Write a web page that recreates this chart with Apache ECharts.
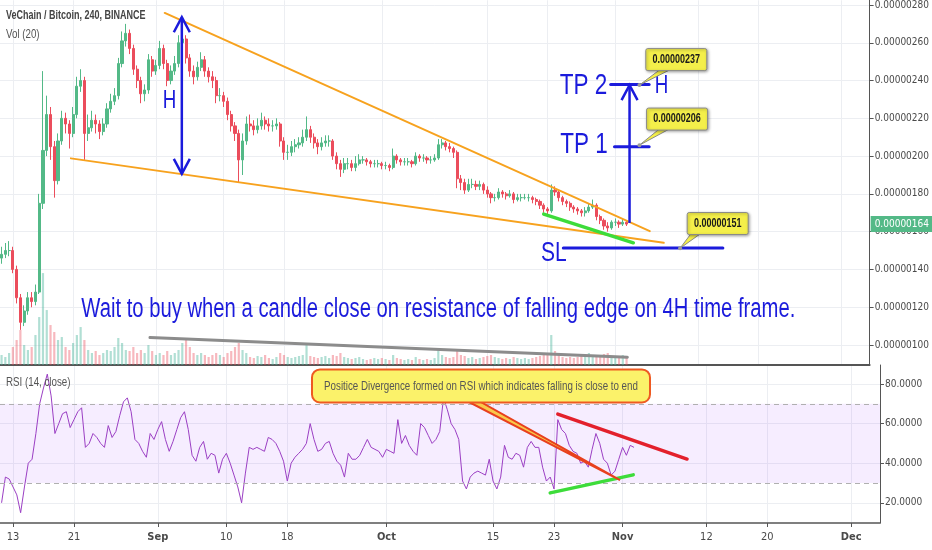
<!DOCTYPE html>
<html><head><meta charset="utf-8">
<script src="https://cdn.jsdelivr.net/npm/echarts@6/dist/echarts.min.js"></script>
<style>html,body{margin:0;padding:0;background:#fff}#c{width:932px;height:550px}</style>
</head><body><div id="c"></div>
<script>
// ---------------- DATA (prices in satoshi, i.e. x 1e-8 BTC) ----------------
const candleStart = '2018-08-11 12:00';
const candleStepHours = 12;
const firstOpen = 146;
const closes = [
148,150,150,140,125,112,118,125,123,128,
175,203,222,205,187,208,220,217,212,222,
237,240,212,215,219,217,213,217,225,229,
232,249,261,265,257,246,240,233,235,251,
245,248,257,249,240,245,249,260,262,252,
245,242,247,251,245,242,240,232,232,229,
222,216,212,198,208,217,216,214,216,219,
217,216,216,217,208,202,202,205,206,207,
210,214,210,207,205,207,208,208,200,196,
193,196,196,194,196,198,198,197,196,196,
196,195,195,194,200,198,197,197,197,196,
200,199,199,198,198,199,206,207,205,204,
202,188,186,182,185,185,184,185,182,180,
178,178,181,180,179,180,177,178,178,178,
178,177,176,174,172,171,182,181,178,176,
175,173,172,171,170,171,173,174,168,166,
163,162,165,165,164,165,164];
const highs = [
152,154,155,152,142,127,121,128,128,132,
180,245,232,226,208,212,224,223,219,226,
242,246,242,222,224,222,219,220,228,233,
236,252,266,270,267,259,248,242,238,254,
253,251,261,259,251,248,253,264,270,264,
254,248,250,255,253,247,245,242,236,234,
231,224,218,214,212,221,222,219,220,223,
221,220,219,220,218,210,206,208,209,210,
214,221,216,212,209,210,211,211,209,202,
198,199,199,198,200,201,200,199,198,198,
198,197,197,196,204,201,199,199,199,198,
202,201,201,200,200,201,209,209,208,207,
205,203,190,188,188,188,187,187,186,184,
181,180,183,182,181,182,181,180,180,180,
180,179,178,177,175,173,185,184,182,179,
177,176,174,173,172,173,175,177,175,169,
167,165,166,167,166,167,166];
const lows = [
143,146,147,138,122,108,110,116,120,121,
127,172,200,198,178,185,206,212,204,210,
220,234,198,208,213,212,209,211,215,223,
227,230,247,258,254,243,236,228,229,233,
242,243,246,246,237,238,243,247,257,249,
242,238,240,245,242,239,236,228,229,226,
219,213,208,186,190,206,213,211,212,214,
214,213,213,214,205,198,198,200,202,204,
205,208,207,204,201,203,205,205,198,193,
189,191,193,192,192,195,196,195,194,194,
194,193,193,192,193,196,195,195,195,194,
195,197,197,196,196,197,198,204,203,202,
199,183,182,180,181,183,182,182,180,178,
175,176,177,178,177,178,175,176,176,177,
176,175,174,172,170,168,170,179,176,174,
173,171,170,169,168,168,170,172,166,164,
161,160,161,163,162,163,163];
const volumes = [
10,8,12,18,25,35,20,15,18,30,
48,92,55,40,33,25,28,18,15,22,30,38,
25,15,12,14,10,12,15,14,18,27,22,15,14,18,12,15,12,20,
14,10,12,10,14,10,12,15,22,25,18,12,10,12,10,8,10,12,10,8,
12,14,18,22,15,12,8,7,9,8,10,7,6,8,12,10,8,7,8,9,
10,20,9,8,7,8,9,7,10,9,12,8,7,6,7,8,6,5,6,7,
6,7,6,5,10,7,6,5,6,5,8,6,5,6,5,7,16,10,8,7,
8,14,10,9,7,8,6,7,8,9,10,8,7,6,7,6,8,7,6,7,
6,7,8,9,10,12,30,14,10,8,7,8,7,8,9,10,12,10,9,10,11,12,9,8,9,10,8];
const rsiValues = [
20,33,32,28,24,15,28,40,42,55,
70,78,85,74,55,60,65,66,58,62,
66,68,48,50,55,53,50,48,59,53,
56,64,71,73,66,52,50,46,43,55,
52,57,61,52,46,51,57,63,66,57,
44,41,48,51,42,45,44,35,42,45,
40,34,28,20,35,48,47,48,47,46,
53,52,50,46,41,31,40,43,45,47,
50,60,52,46,47,50,51,45,41,39,
33,45,42,42,44,48,52,48,47,46,
43,47,46,45,62,50,54,49,46,44,
60,58,54,50,52,56,73,67,60,57,
52,31,27,33,35,36,35,34,42,31,
27,33,49,43,42,45,44,38,48,51,
48,48,38,31,33,27,62,57,55,49,
46,45,40,41,38,47,55,50,42,40,
34,36,42,48,44,49,48];

const timeTickDates = ['2018-08-13 00:00','2018-08-21 00:00','2018-09-01 00:00','2018-09-10 00:00','2018-09-18 00:00','2018-10-01 00:00','2018-10-15 00:00','2018-10-23 00:00','2018-11-01 00:00','2018-11-12 00:00','2018-11-20 00:00','2018-12-01 00:00'];
const timeTickLabels = ['13','21','Sep','10','18','Oct','15','23','Nov','12','20','Dec'];
const priceTicks = [100,120,140,160,180,200,220,240,260,280];
const rsiTicks = [20,40,60,80];
const rsiBands = [30,70];
const timeRange = ['2018-08-11 07:00','2018-12-04 18:45'];
const priceRange = [89.4,282.5];
const rsiRange = [9.8,89.6];

// drawings (time, price)
const wedgeUpper = [['2018-09-02 04:00',275.8],['2018-11-05 14:00',160.3]];
const wedgeLower = [['2018-08-20 17:00',198.8],['2018-11-07 10:30',154.1]];
const supportGreen = [['2018-10-22 12:00',169.3],['2018-11-03 09:30',154.1]];
const volumeTrend = [['2018-08-31 05:00',103.9],['2018-11-02 14:30',93.5]];
const tp2Line = [['2018-10-31 09:30',237.9],['2018-11-05 12:00',237.9]];
const tp1Line = [['2018-10-31 21:30',204.9],['2018-11-05 12:00',204.9]];
const slLine = [['2018-10-25 02:30',151.3],['2018-11-15 07:00',151.3]];
const heightArrow = [['2018-09-04 10:30',190.6],['2018-09-04 10:30',273.5]];
const targetArrow = [['2018-11-02 21:30',164.6],['2018-11-02 21:30',237.6]];
const chartTexts = [
  ['2018-09-02 19:00',229.1,'H'],
  ['2018-10-27 19:00',237.0,'TP 2'],
  ['2018-10-27 20:00',205.8,'TP 1'],
  ['2018-10-23 20:00',148.7,'SL'],
  ['2018-11-07 03:30',237.0,'H'],
  ['2018-10-08 12:00',119.0,'Wait to buy when a candle close on resistance of falling edge on 4H time frame.']
];
const calloutTexts = ['0.00000237','0.00000206','0.00000151'];
const calloutBoxes = [['2018-11-09 02:30',251.1],['2018-11-09 05:00',219.6],['2018-11-14 14:30',164.3]];
const calloutTails = [['2018-11-07 12:00',245.5],['2018-11-07 12:00',214.3],['2018-11-11 19:00',159.3]];
const calloutTips = [['2018-11-04 05:00',237.6],['2018-11-04 05:00',205.8],['2018-11-09 14:30',151.2]];
const rsiResistance = [['2018-10-23 12:00',64.8],['2018-11-09 11:00',42.1]];
const rsiSupport = [['2018-10-22 12:00',25.0],['2018-11-02 09:30',34.1]];
const rsiNote = 'Positice Divergence formed on RSI which indicates falling is close to end';
const rsiNoteBox = ['2018-10-13 10:00',79.0];
const rsiNoteTail = ['2018-10-12 10:00',71.3];
const rsiNoteTip = ['2018-10-31 16:00',31.5];

// ---------------- STYLE ----------------
const FONT_AX = '"Liberation Sans Narrow","Arial Narrow","DejaVu Sans Condensed","Liberation Sans",sans-serif';
const FONT_TXT = '"Liberation Sans",Arial,sans-serif';
const SQUISH = 0.75;
const BLUE = '#1b1bdc';
const ORANGE = '#f7a21e';
const GREEN = '#3ddc3a';
const GRID_C = '#eceef2';
const AX_C = '#555555';
const UP = '#53b987', DN = '#eb4d5c';
const VOL_UP = 'rgba(83,185,160,0.45)', VOL_DN = 'rgba(235,77,92,0.4)';
const TEXT_SIZE = {'H':25,'TP 2':30,'TP 1':30,'SL':28};

// ---------------- BUILD ----------------
const tsv = s => Date.parse(s.replace(' ','T') + ':00Z');
const pt = a => [tsv(a[0]), a[1]];
const fmtPrice = v => (v/1e8).toFixed(8);
const t0 = tsv(candleStart), step = candleStepHours*3600000;
const times = closes.map((_,i) => t0 + i*step);
const candleData = closes.map((c,i) => [times[i], i ? closes[i-1] : firstOpen, c, lows[i], highs[i]]);
const volData = volumes.map((v,i) => ({value:[times[i], v], itemStyle:{color: candleData[i][2] >= candleData[i][1] ? VOL_UP : VOL_DN}}));
const rsiData = rsiValues.map((v,i) => [times[i], v]);
const tickTs = timeTickDates.map(tsv);
const lastClose = closes[closes.length-1];

function seg(pts, color, width, rsi) {
  return {type:'line', xAxisIndex: rsi?1:0, yAxisIndex: rsi?2:0, data: pts.map(pt), symbol:'none',
    silent:true, z:6, clip:false, lineStyle:{color, width, cap:'round'}};
}
function head(tip, from, color, width) {
  const dx = tip[0]-from[0], dy = tip[1]-from[1], L = Math.hypot(dx,dy) || 1, ux = dx/L, uy = dy/L;
  const hl = 15, hw = 8;
  return {type:'polyline', shape:{points:[[tip[0]-ux*hl-uy*hw, tip[1]-uy*hl+ux*hw],[tip[0],tip[1]],[tip[0]-ux*hl+uy*hw, tip[1]-uy*hl-ux*hw]]},
    style:{stroke:color, lineWidth:width, fill:null, lineJoin:'miter'}};
}
const arrows = [heightArrow, targetArrow];
const doubleHeaded = [true, false];

const option = {
  animation:false,
  backgroundColor:'#ffffff',
  grid:[{left:0,right:52,top:0,height:365},{left:0,right:52,top:365,height:158}],
  xAxis:[
    {type:'value', gridIndex:0, min:tsv(timeRange[0]), max:tsv(timeRange[1]),
     axisLine:{show:true, onZero:false, lineStyle:{color:AX_C, width:2}},
     axisTick:{show:false, customValues:tickTs}, axisLabel:{show:false, customValues:tickTs},
     splitLine:{show:true, lineStyle:{color:GRID_C, width:1}}},
    {type:'value', gridIndex:1, min:tsv(timeRange[0]), max:tsv(timeRange[1]),
     axisLine:{show:true, onZero:false, lineStyle:{color:AX_C, width:1.5}},
     axisTick:{show:true, length:4, customValues:tickTs, lineStyle:{color:AX_C}},
     axisLabel:{show:true, customValues:tickTs, margin:9, color:'#4a4a4a', fontFamily:FONT_AX, fontSize:11,
       formatter:(v) => { const i = tickTs.indexOf(v); const s = i>=0 ? timeTickLabels[i] : ''; return isNaN(Number(s)) ? '{m|'+s+'}' : s; },
       rich:{m:{fontWeight:'bold', color:'#4a4a4a', fontFamily:FONT_AX, fontSize:11}}},
     splitLine:{show:true, lineStyle:{color:GRID_C, width:1}}}
  ],
  yAxis:[
    {type:'value', gridIndex:0, position:'right', min:priceRange[0], max:priceRange[1],
     axisLine:{show:true, onZero:false, lineStyle:{color:AX_C}},
     axisTick:{show:true, length:4, customValues:priceTicks, lineStyle:{color:AX_C}},
     axisLabel:{customValues:priceTicks, formatter:fmtPrice, margin:5, color:'#4a4a4a', fontFamily:FONT_AX, fontSize:10},
     splitLine:{show:true, lineStyle:{color:GRID_C}}},
    {type:'value', gridIndex:0, min:0, max:365, show:false, splitLine:{show:false}},
    {type:'value', gridIndex:1, position:'right', min:rsiRange[0], max:rsiRange[1],
     axisLine:{show:true, onZero:false, lineStyle:{color:AX_C}},
     axisTick:{show:true, length:4, customValues:rsiTicks, lineStyle:{color:AX_C}},
     axisLabel:{customValues:rsiTicks, formatter:v => v.toFixed(4), margin:5, color:'#4a4a4a', fontFamily:FONT_AX, fontSize:10},
     splitLine:{show:true, lineStyle:{color:GRID_C}}}
  ],
  graphic:[
    {type:'text', x:6, y:16, scaleX:SQUISH, z:50, style:{text:'VeChain / Bitcoin, 240, BINANCE', fill:'#444', fontSize:12, fontWeight:'bold', fontFamily:FONT_TXT, verticalAlign:'middle', textVerticalAlign:'middle'}},
    {type:'text', x:6, y:34, scaleX:SQUISH, z:50, style:{text:'Vol (20)', fill:'#555', fontSize:13, fontFamily:FONT_TXT, verticalAlign:'middle', textVerticalAlign:'middle'}},
    {type:'text', x:6, y:382, scaleX:SQUISH, z:50, style:{text:'RSI (14, close)', fill:'#555', fontSize:13, fontFamily:FONT_TXT, verticalAlign:'middle', textVerticalAlign:'middle'}}
  ],
  series:[
    {type:'bar', xAxisIndex:0, yAxisIndex:1, data:volData, barWidth:2.2, z:1, silent:true},
    {type:'candlestick', xAxisIndex:0, yAxisIndex:0, data:candleData, barWidth:2.6, z:2, silent:true,
     itemStyle:{color:UP, color0:DN, borderColor:UP, borderColor0:DN, borderWidth:1},
     markLine:{silent:true, symbol:'none', animation:false, lineStyle:{color:'rgba(0,0,0,0)', width:0},
       label:{position:'end', distance:1, formatter:fmtPrice(lastClose), backgroundColor:UP, color:'#fff', padding:[3,4], fontFamily:FONT_AX, fontSize:10},
       data:[{yAxis:lastClose}]}},
    {type:'line', xAxisIndex:1, yAxisIndex:2, data:rsiData, symbol:'none', silent:true, z:3,
     lineStyle:{color:'#9b3fc4', width:1},
     markArea:{silent:true, itemStyle:{color:'rgba(155,60,255,0.09)'}, data:[[{yAxis:rsiBands[0]},{yAxis:rsiBands[1]}]]},
     markLine:{silent:true, symbol:'none', label:{show:false}, lineStyle:{color:'#b0b0b0', type:[5,4], width:1}, data:rsiBands.map(v => ({yAxis:v}))}},
    seg(wedgeUpper, ORANGE, 2),
    seg(wedgeLower, ORANGE, 2),
    seg(volumeTrend, '#8c8c8c', 3),
    seg(supportGreen, GREEN, 3.5),
    seg(tp2Line, BLUE, 3),
    seg(tp1Line, BLUE, 3),
    seg(slLine, BLUE, 3),
    seg(rsiResistance, '#e3202c', 3.5, true),
    seg(rsiSupport, GREEN, 3.5, true),
    {type:'custom', xAxisIndex:0, yAxisIndex:0, z:7, silent:true,
     data: arrows.map(a => [...pt(a[0]), ...pt(a[1])]),
     renderItem:(params, api) => {
       const a = api.coord([api.value(0), api.value(1)]);
       const b = api.coord([api.value(2), api.value(3)]);
       const ch = [{type:'line', shape:{x1:a[0],y1:a[1],x2:b[0],y2:b[1]}, style:{stroke:BLUE, lineWidth:2.5}}, head(b, a, BLUE, 2.5)];
       if (doubleHeaded[params.dataIndex]) ch.push(head(a, b, BLUE, 2.5));
       return {type:'group', children:ch};
     }},
    {type:'custom', xAxisIndex:0, yAxisIndex:0, z:10, silent:true,
     data: chartTexts.map(t => [tsv(t[0]), t[1]]),
     renderItem:(params, api) => {
       const p = api.coord([api.value(0), api.value(1)]);
       const txt = chartTexts[params.dataIndex][2];
       return {type:'text', x:p[0], y:p[1], scaleX:SQUISH,
         style:{text:txt, fill:BLUE, fontSize:TEXT_SIZE[txt] || 27, fontFamily:FONT_TXT,
           align:'center', verticalAlign:'middle', textAlign:'center', textVerticalAlign:'middle'}};
     }},
    {type:'custom', xAxisIndex:0, yAxisIndex:0, z:11, silent:true,
     data: calloutBoxes.map((b,i) => [...pt(b), ...pt(calloutTails[i]), ...pt(calloutTips[i])]),
     renderItem:(params, api) => {
       const b = api.coord([api.value(0), api.value(1)]);
       const f = api.coord([api.value(2), api.value(3)]);
       const t = api.coord([api.value(4), api.value(5)]);
       const w = 61, h = 22;
       return {type:'group', children:[
         {type:'polygon', shape:{points:[[f[0]-5,f[1]],[f[0]+5,f[1]],[t[0],t[1]]]}, style:{fill:'#f4ef4a', stroke:'#8a8a8a', lineWidth:1}},
         {type:'rect', shape:{x:b[0]-w/2, y:b[1]-h/2, width:w, height:h, r:2},
          style:{fill:'#f4ef4a', stroke:'#8a8a8a', lineWidth:1, shadowBlur:3, shadowColor:'rgba(0,0,0,0.35)', shadowOffsetX:1, shadowOffsetY:1}},
         {type:'text', x:b[0], y:b[1], scaleX:SQUISH, style:{text:calloutTexts[params.dataIndex], fill:'#1a1a1a', fontSize:12, fontWeight:'bold', fontFamily:FONT_TXT,
           align:'center', verticalAlign:'middle', textAlign:'center', textVerticalAlign:'middle'}},
         {type:'circle', shape:{cx:t[0], cy:t[1], r:2}, style:{fill:'#9a9a9a'}}
       ]};
     }},
    {type:'custom', xAxisIndex:1, yAxisIndex:2, z:11, silent:true,
     data: [[...pt(rsiNoteBox), ...pt(rsiNoteTail), ...pt(rsiNoteTip)]],
     renderItem:(params, api) => {
       const b = api.coord([api.value(0), api.value(1)]);
       const f = api.coord([api.value(2), api.value(3)]);
       const t = api.coord([api.value(4), api.value(5)]);
       const w = 338, h = 33;
       return {type:'group', children:[
         {type:'polygon', shape:{points:[[f[0]-6,f[1]],[f[0]+6,f[1]],[t[0],t[1]]]}, style:{fill:'#f9c94a', stroke:'#e8401e', lineWidth:2}},
         {type:'rect', shape:{x:b[0]-w/2, y:b[1]-h/2, width:w, height:h, r:8},
          style:{fill:'#fbf26a', stroke:'#ee5a22', lineWidth:2}},
         {type:'text', x:b[0], y:b[1], scaleX:SQUISH, style:{text:rsiNote, fill:'#555', fontSize:13, fontFamily:FONT_TXT,
           align:'center', verticalAlign:'middle', textAlign:'center', textVerticalAlign:'middle'}}
       ]};
     }}
  ]
};
const chart = echarts.init(document.getElementById('c'), null, {renderer:'canvas'});
chart.setOption(option);
</script></body></html>
